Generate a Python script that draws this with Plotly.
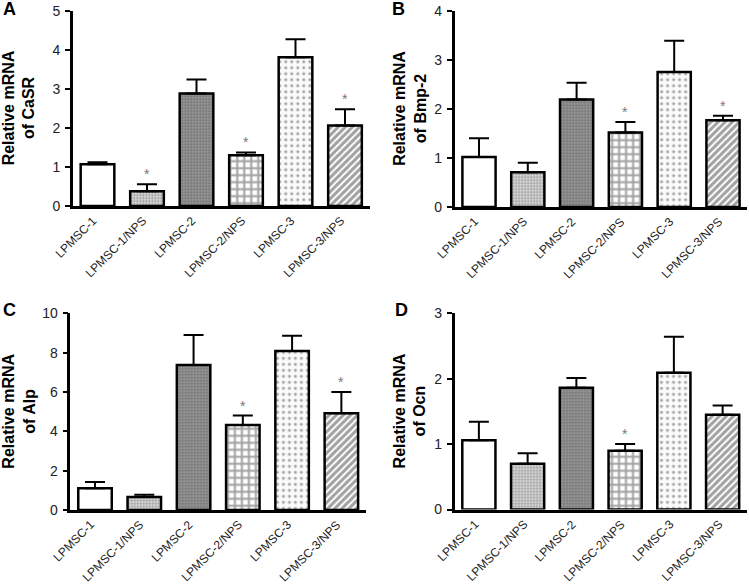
import plotly.graph_objects as go

categories = ["LPMSC-1", "LPMSC-1/NPS", "LPMSC-2", "LPMSC-2/NPS", "LPMSC-3", "LPMSC-3/NPS"]

casr_mean = [1.07, 0.38, 2.88, 1.30, 3.81, 2.06]
casr_top = [1.12, 0.56, 3.24, 1.37, 4.27, 2.48]
casr_star = [False, True, False, True, False, True]

bmp2_mean = [1.02, 0.71, 2.19, 1.52, 2.75, 1.77]
bmp2_top = [1.40, 0.90, 2.53, 1.73, 3.39, 1.86]
bmp2_star = [False, False, False, True, False, True]

alp_mean = [1.10, 0.66, 7.37, 4.32, 8.08, 4.92]
alp_top = [1.42, 0.78, 8.90, 4.80, 8.86, 6.00]
alp_star = [False, False, False, True, False, True]

ocn_mean = [1.06, 0.70, 1.86, 0.90, 2.09, 1.45]
ocn_top = [1.34, 0.86, 2.01, 1.00, 2.64, 1.59]
ocn_star = [False, False, False, True, False, False]

panels = [
    dict(letter="A", title="Relative mRNA<br>of CaSR", mean=casr_mean, top=casr_top, star=casr_star,
         ymax=5, dtick=1),
    dict(letter="B", title="Relative mRNA<br>of Bmp-2", mean=bmp2_mean, top=bmp2_top, star=bmp2_star,
         ymax=4, dtick=1),
    dict(letter="C", title="Relative mRNA<br>of Alp", mean=alp_mean, top=alp_top, star=alp_star,
         ymax=10, dtick=2),
    dict(letter="D", title="Relative mRNA<br>of Ocn", mean=ocn_mean, top=ocn_top, star=ocn_star,
         ymax=3, dtick=1),
]

W, H = 749, 584
geom = [
    dict(x=(72.75, 369.75), y=(10.7, 206), letter=(9, 9), tx=19),
    dict(x=(454.6, 747.4), y=(10.7, 207), letter=(398, 9), tx=410),
    dict(x=(70.4, 366.0), y=(313.3, 510), letter=(9, 310), tx=19),
    dict(x=(454.5, 747.0), y=(313.3, 509.5), letter=(401, 310), tx=410),
]

pat_shape = ["", ".", ".", "+", ".", "/"]
pat_fg = ["#000000", "#8a8a8a", "#000000", "#000000", "#9a9a9a", "#000000"]
pat_bg = ["#ffffff", "#e4e4e4", "#a0a0a0", "#ffffff", "#fbfbfb", "#ffffff"]
pat_size = [4, 3, 3, 7, 6, 5]
pat_sol = [0.3, 0.45, 0.5, 0.5, 0.2, 0.6]

FONT = "Liberation Sans, Arial, sans-serif"

fig = go.Figure()
annotations = []
layout_axes = {}

for i, (p, g) in enumerate(zip(panels, geom)):
    n = "" if i == 0 else str(i + 1)
    xa, ya = "x" + n, "y" + n
    fig.add_trace(go.Bar(
        x=categories, y=p["mean"], xaxis=xa, yaxis=ya, width=0.68,
        marker=dict(
            color=pat_bg,
            line=dict(color="black", width=2.5),
            pattern=dict(shape=pat_shape, fgcolor=pat_fg, bgcolor=pat_bg,
                         size=pat_size, solidity=pat_sol),
        ),
        error_y=dict(type="data", symmetric=False,
                     array=[t - m for t, m in zip(p["top"], p["mean"])],
                     arrayminus=[0] * 6, color="black", thickness=2, width=10),
        showlegend=False, hoverinfo="skip",
    ))
    x0, x1 = g["x"]
    yt, yb = g["y"]
    layout_axes["xaxis" + n] = dict(
        domain=[x0 / W, x1 / W], anchor=ya, type="category", range=[-0.5, 5.5],
        showline=True, linecolor="black", linewidth=2.5, ticks="", automargin=False,
        showticklabels=False, showgrid=False, zeroline=False,
    )
    layout_axes["yaxis" + n] = dict(
        domain=[1 - yb / H, 1 - yt / H], anchor=xa, range=[0, p["ymax"]], dtick=p["dtick"],
        showline=True, linecolor="black", linewidth=2.5, ticks="outside", ticklen=5,
        tickwidth=2, tickcolor="black", tickfont=dict(family=FONT, size=14, color="#222"),
        ticklabelstandoff=2, showgrid=False, zeroline=False, automargin=False,
    )
    for c in categories:
        annotations.append(dict(
            text=c, xref=xa, yref=ya, x=c, y=0, showarrow=False, textangle=-45,
            xanchor="right", yanchor="top", xshift=5, yshift=-5,
            font=dict(family=FONT, size=12, color="#222"),
        ))
    annotations.append(dict(
        text="<b>" + p["letter"] + "</b>", xref="paper", yref="paper",
        x=g["letter"][0] / W, y=1 - g["letter"][1] / H, showarrow=False,
        font=dict(family=FONT, size=18, color="black"), xanchor="center", yanchor="middle",
    ))
    annotations.append(dict(
        text="<b>" + p["title"] + "</b>", xref="paper", yref="paper",
        x=g["tx"] / W, y=1 - (yt + yb) / 2 / H, showarrow=False, textangle=-90,
        font=dict(family=FONT, size=16, color="black"), xanchor="center", yanchor="middle",
    ))
    for j, s in enumerate(p["star"]):
        if s:
            annotations.append(dict(
                text="*", xref=xa, yref=ya, x=categories[j], y=p["top"][j],
                showarrow=False, yanchor="bottom", yshift=0,
                font=dict(family=FONT, size=14, color="#777"),
            ))

fig.update_layout(
    width=W, height=H, margin=dict(l=0, r=0, t=0, b=0, autoexpand=False),
    paper_bgcolor="white", plot_bgcolor="white",
    annotations=annotations, bargap=0.32,
    **layout_axes,
)

fig.write_html("out.html", config={"displayModeBar": False},
               post_script="document.body.style.margin='0px';document.body.style.overflow='hidden';")
